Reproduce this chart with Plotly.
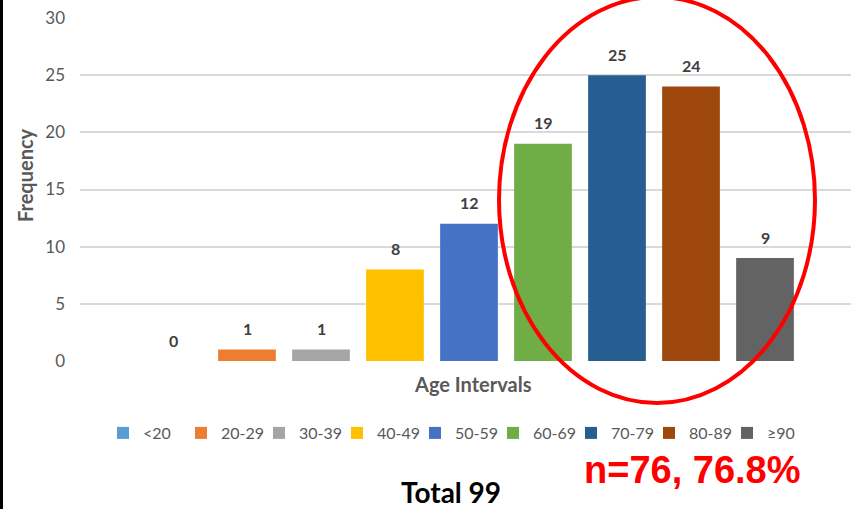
import plotly.graph_objects as go

categories = ["<20", "20-29", "30-39", "40-49", "50-59", "60-69", "70-79", "80-89", "≥90"]
frequency = [0, 1, 1, 8, 12, 19, 25, 24, 9]
colors = ["#5B9BD5", "#ED7D31", "#A5A5A5", "#FFC000", "#4472C4",
          "#70AD47", "#255E91", "#9E480E", "#636363"]
y_ticks = [0, 5, 10, 15, 20, 25, 30]

W, H = 851, 509
ML, MR, MT, MB = 80, 0, 18, 148
slot = 74.0
first_center_px = 173
x0 = -(first_center_px - ML) / slot
x1 = x0 + (W - ML - MR) / slot

FONT = "Lato"
fig = go.Figure()
for i, (c, v, col) in enumerate(zip(categories, frequency, colors)):
    fig.add_trace(go.Bar(
        x=[i], y=[v], name=c, marker=dict(color=col, line=dict(width=0)),
        width=0.78, hoverinfo="skip",
    ))

pw = W - ML - MR
ph = H - MT - MB
def px_x(p):
    return (p - ML) / pw
def px_y(p):
    return (H - MB - p) / ph

shapes = [
    dict(type="circle", xref="paper", yref="paper",
         x0=px_x(499), x1=px_x(815), y0=px_y(403), y1=px_y(-3),
         line=dict(color="#FF0000", width=4), layer="above"),
    dict(type="line", xref="paper", yref="paper",
         x0=px_x(1.5), x1=px_x(1.5), y0=px_y(H), y1=px_y(0),
         line=dict(color="black", width=3)),
]

annotations = []
for i, v in enumerate(frequency):
    annotations.append(dict(
        text=f"<b>{v}</b>", x=i, y=v, xref="x", yref="y", showarrow=False,
        xanchor="center", yanchor="middle", yshift=21,
        font=dict(family=FONT, size=16, color="#404040")))

annotations += [
    dict(text="<b>Age Intervals</b>", xref="paper", yref="paper", x=px_x(473), y=px_y(384),
         xanchor="center", yanchor="middle",
         showarrow=False, font=dict(family=FONT, size=20, color="#595959")),
    dict(text="<b>Frequency</b>", xref="paper", yref="paper", x=px_x(25), y=px_y(175),
         xanchor="center", yanchor="middle",
         textangle=-90, showarrow=False,
         font=dict(family=FONT, size=20, color="#595959")),
    dict(text="<b>n=76, 76.8%</b>", xref="paper", yref="paper", x=px_x(692), y=px_y(470),
         xanchor="center", yanchor="middle",
         showarrow=False, font=dict(family="Liberation Sans", size=38, color="#FF0000")),
    dict(text="<b>Total 99</b>", xref="paper", yref="paper", x=px_x(451), y=px_y(492),
         xanchor="center", yanchor="middle",
         showarrow=False, font=dict(family=FONT, size=28, color="black")),
]

fig.update_layout(
    width=W, height=H,
    margin=dict(l=ML, r=MR, t=MT, b=MB, pad=0, autoexpand=False),
    paper_bgcolor="white", plot_bgcolor="white",
    xaxis=dict(range=[x0, x1], showticklabels=False, showgrid=False, zeroline=False,
               showline=False, ticks=""),
    yaxis=dict(range=[0, 30], tickvals=y_ticks, showgrid=True, gridcolor="#D9D9D9",
               gridwidth=1.5, zeroline=False, showline=False, ticks="", ticklabelstandoff=14,
               tickfont=dict(family=FONT, size=17, color="#595959")),
    showlegend=True,
    legend=dict(orientation="h", x=px_x(103), y=px_y(416), xanchor="left", yanchor="top",
                entrywidth=33, entrywidthmode="pixels", itemwidth=30,
                font=dict(family=FONT, size=16, color="#595959"),
                bgcolor="rgba(0,0,0,0)", traceorder="normal"),
    shapes=shapes, annotations=annotations,
)

fig.write_html("out.html", config={"displayModeBar": False},
               post_script="document.body.style.margin='0';document.body.style.overflow='hidden';")
